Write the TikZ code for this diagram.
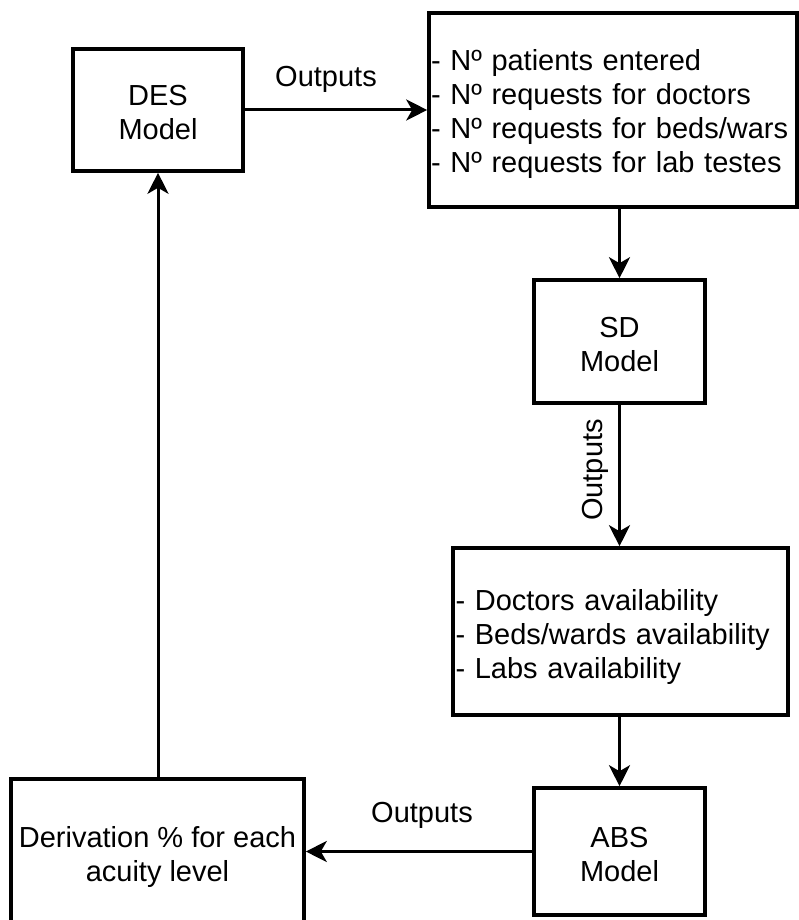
\documentclass[tikz,border=0pt]{standalone}
\usepackage{fontspec}
\setmainfont{Liberation Sans}
\usetikzlibrary{arrows.meta}
\begin{document}
\begin{tikzpicture}[x=1pt, y=-1pt,
  every node/.style={font=\fontsize{29}{34}\selectfont},
  box/.style={draw, line width=3.6pt, rectangle, inner sep=0pt},
  txt/.style={inner sep=0pt, align=center},
  listtxt/.style={inner sep=0pt, align=left},
  arr/.style={line width=3pt, -{Stealth[length=21pt, width=21pt, inset=6pt]}},
  lbl/.style={inner sep=0pt}]
  \useasboundingbox (0,0) rectangle (798,920);

  % model boxes
  \node[box, minimum width=170pt, minimum height=122pt] (des) at (158,110) {};
  \node[box, minimum width=171pt, minimum height=123pt] (sd) at (619.5,341.5) {};
  \node[box, minimum width=171pt, minimum height=127pt] (abs) at (619.5,851.5) {};

  % output lists
  \node[box, minimum width=368pt, minimum height=194pt] (req) at (613,110) {};
  \node[box, minimum width=335pt, minimum height=167pt] (avail) at (620.5,631.5) {};
  \node[box, minimum width=293pt, minimum height=150pt] (deriv) at (157.5,854) {};

  % box texts
  \node[txt] (desT) at ([yshift=-3pt]des.center) {DES\\Model};
  \node[txt] (sdT) at ([yshift=-3pt]sd.center) {SD\\Model};
  \node[txt] (absT) at ([yshift=-3pt]abs.center) {ABS\\Model};
  \node[listtxt, text width=364pt] (reqT) at ([yshift=-4pt]req.center)
    {- Nº patients entered\\- Nº requests for doctors\\- Nº requests for beds/wars\\- Nº requests for lab testes};
  \node[listtxt, text width=330pt] (availT) at ([yshift=-5pt]avail.center)
    {- Doctors availability\\- Beds/wards availability\\- Labs availability};
  \node[txt] (derivT) at ([yshift=-3pt]deriv.center) {Derivation \% for each\\acuity level};

  % connectors
  \draw[arr] (des.east) -- (des.east -| req.west);
  \draw[arr] (sd.north |- req.south) -- (sd.north);
  \draw[arr] (sd.south) -- (sd.south |- avail.north);
  \draw[arr] (abs.north |- avail.south) -- (abs.north);
  \draw[arr] (abs.west) -- (abs.west -| deriv.east);
  \draw[arr] (des.south |- deriv.north) -- (des.south);

  % connector labels
  \node[lbl] (o1) at (326,79) {Outputs};
  \node[lbl, rotate=90] (o2) at (595,470) {Outputs};
  \node[lbl] (o3) at (422,815) {Outputs};
\end{tikzpicture}
\end{document}
